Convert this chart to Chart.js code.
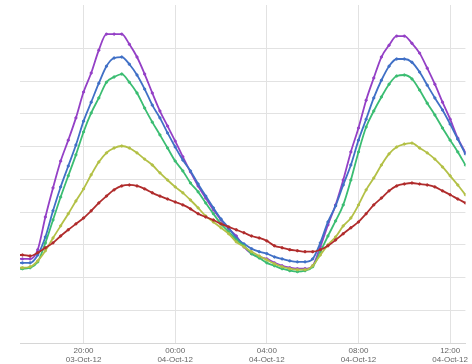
<!DOCTYPE html>
<html>
<head>
<meta charset="utf-8">
<script src="https://cdn.jsdelivr.net/npm/chart.js@4"></script>
<style>
  html, body { margin: 0; padding: 0; background: #fff; }
  #wrap { width: 472px; height: 364px; }
</style>
</head>
<body>
<div id="wrap"><canvas id="chart"></canvas></div>
<script>
// readings every 20 minutes, 03-Oct-12 17:00 -> 04-Oct-12 12:40
const times = [
  "17:00","17:20","17:40","18:00","18:20","18:40","19:00","19:20","19:40","20:00",
  "20:20","20:40","21:00","21:20","21:40","22:00","22:20","22:40","23:00","23:20",
  "23:40","00:00","00:20","00:40","01:00","01:20","01:40","02:00","02:20","02:40",
  "03:00","03:20","03:40","04:00","04:20","04:40","05:00","05:20","05:40","06:00",
  "06:20","06:40","07:00","07:20","07:40","08:00","08:20","08:40","09:00","09:20",
  "09:40","10:00","10:20","10:40","11:00","11:20","11:40","12:00","12:20","12:40"
];

const purple = [
  2.57,2.57,2.57,2.85,3.85,4.74,5.56,6.20,6.88,7.67,
  8.25,8.95,9.44,9.44,9.44,9.13,8.74,8.22,7.64,7.09,
  6.63,6.17,5.69,5.23,4.80,4.43,4.07,3.76,3.49,3.27,
  2.94,2.73,2.63,2.57,2.45,2.36,2.30,2.27,2.27,2.36,
  2.94,3.61,4.22,4.98,5.84,6.57,7.42,8.10,8.74,9.10,
  9.38,9.38,9.16,8.86,8.40,7.91,7.36,6.84,6.26,5.82
];
const blue = [
  2.45,2.45,2.45,2.69,3.24,4.04,4.77,5.41,6.05,6.78,
  7.36,7.94,8.46,8.71,8.74,8.52,8.19,7.76,7.27,6.88,
  6.42,5.99,5.59,5.26,4.86,4.49,4.13,3.79,3.52,3.21,
  3.03,2.88,2.79,2.73,2.63,2.57,2.51,2.48,2.48,2.57,
  3.06,3.70,4.19,4.83,5.44,6.20,6.84,7.49,8.03,8.46,
  8.68,8.68,8.58,8.28,7.88,7.49,7.12,6.69,6.23,5.78
];
const green = [
  2.27,2.27,2.30,2.48,3.06,3.76,4.46,5.11,5.75,6.45,
  7.03,7.49,7.97,8.13,8.22,7.97,7.64,7.18,6.75,6.36,
  5.96,5.56,5.26,4.89,4.62,4.28,3.95,3.64,3.40,3.15,
  2.97,2.73,2.60,2.45,2.36,2.27,2.21,2.18,2.21,2.33,
  2.79,3.27,3.73,4.22,4.98,5.84,6.60,7.09,7.52,7.91,
  8.16,8.19,8.07,7.73,7.33,6.97,6.57,6.20,5.84,5.44
];
const yellow = [
  2.30,2.30,2.33,2.51,2.82,3.21,3.58,3.95,4.34,4.71,
  5.14,5.53,5.81,5.96,6.02,5.96,5.81,5.62,5.44,5.20,
  4.98,4.77,4.59,4.37,4.13,3.88,3.70,3.52,3.34,3.09,
  2.94,2.79,2.66,2.54,2.42,2.33,2.27,2.24,2.24,2.36,
  2.69,3.00,3.24,3.58,3.82,4.22,4.68,5.04,5.44,5.78,
  5.99,6.08,6.11,5.96,5.81,5.62,5.38,5.11,4.83,4.53
];
const red = [
  2.69,2.69,2.66,2.76,2.91,3.06,3.27,3.46,3.64,3.82,
  4.04,4.28,4.49,4.68,4.80,4.83,4.80,4.71,4.59,4.49,
  4.40,4.31,4.22,4.10,3.95,3.85,3.76,3.64,3.55,3.46,
  3.37,3.27,3.21,3.12,2.97,2.91,2.85,2.82,2.79,2.79,
  2.85,2.97,3.15,3.34,3.52,3.70,3.95,4.22,4.43,4.65,
  4.80,4.86,4.89,4.86,4.83,4.77,4.65,4.53,4.40,4.28
];

const tickHours = [20, 24, 28, 32, 36];
const tickLabels = [
  ["20:00", "03-Oct-12"],
  ["00:00", "04-Oct-12"],
  ["04:00", "04-Oct-12"],
  ["08:00", "04-Oct-12"],
  ["12:00", "04-Oct-12"]
];

// hours counted from 03-Oct-12 00:00
let dayOffset = 0, prev = -1;
const hours = times.map(t => {
  const [h, m] = t.split(":").map(Number);
  let v = h + m / 60;
  if (v < prev) dayOffset += 24;
  prev = v;
  return v + dayOffset;
});

const toPoints = arr => arr.map((v, i) => ({ x: hours[i], y: v }));

const series = [
  { data: red, color: "#b02c2c" },
  { data: yellow, color: "#b3c046" },
  { data: green, color: "#3bbd72" },
  { data: blue, color: "#4070c6" },
  { data: purple, color: "#9440c6" }
];

const gridColor = "#e2e2e2";

new Chart(document.getElementById("chart"), {
  type: "line",
  data: {
    datasets: series.map(s => ({
      data: toPoints(s.data),
      borderColor: s.color,
      backgroundColor: s.color,
      borderWidth: 1.8,
      pointRadius: 1.2,
      pointBorderWidth: 0.8,
      pointHoverRadius: 0,
      cubicInterpolationMode: "monotone",
      fill: false
    }))
  },
  options: {
    responsive: true,
    maintainAspectRatio: false,
    animation: false,
    events: [],
    layout: { padding: { left: 0, top: 5, right: 0, bottom: 0 } },
    plugins: { legend: { display: false }, tooltip: { enabled: false } },
    scales: {
      x: {
        type: "linear",
        min: 17.226,
        max: 36.667,
        afterBuildTicks: scale => {
          scale.ticks = tickHours.map(v => ({ value: v }));
        },
        afterFit: scale => { scale.height = 21; },
        grid: { color: gridColor, drawTicks: false },
        border: { color: "#d6d6d6" },
        ticks: {
          padding: 4,
          maxRotation: 0,
          autoSkip: false,
          color: "#666",
          font: { family: "Liberation Sans, Arial, sans-serif", size: 8, lineHeight: 1.05 },
          callback: v => tickLabels[tickHours.indexOf(v)] || ""
        }
      },
      y: {
        min: 0,
        max: 10.33,
        afterFit: scale => { scale.width = 20; },
        grid: {
          drawTicks: false,
          color: ctx => (ctx.tick && ctx.tick.value > 10.01 ? "rgba(0,0,0,0)" : gridColor)
        },
        border: { display: false },
        ticks: { stepSize: 1, display: false }
      }
    }
  }
});
</script>
</body>
</html>
